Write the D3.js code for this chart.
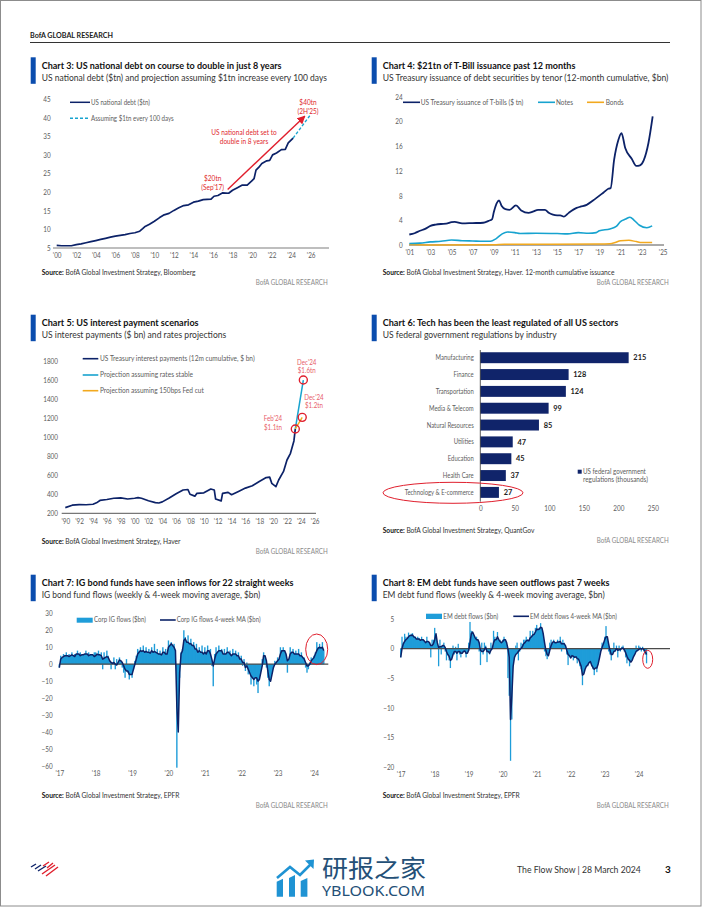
<!DOCTYPE html>
<html><head><meta charset="utf-8">
<script src="https://cdn.jsdelivr.net/npm/d3@7"></script>
<style>html,body{margin:0;padding:0;background:#fff}svg{display:block}text{font-family:Lato,"Noto Sans",sans-serif}</style>
</head><body><svg id="page" width="702" height="907"></svg>
<script>
// ---------- data ----------
const debtSeries=[[2000,5.7],[2000.5,5.6],[2001,5.6],[2001.5,5.6],[2002,5.9],[2002.5,6.1],[2003,6.4],[2003.5,6.7],[2004,7.0],[2004.5,7.3],[2005,7.6],[2005.5,7.9],[2006,8.2],[2006.5,8.4],[2007,8.6],[2007.5,8.9],[2008,9.1],[2008.5,9.5],[2008.8,10.2],[2009,10.7],[2009.5,11.4],[2010,12.2],[2010.5,13.1],[2011,13.9],[2011.5,14.3],[2012,15.1],[2012.5,15.8],[2013,16.4],[2013.5,16.6],[2014,17.3],[2014.5,17.6],[2015,18.0],[2015.8,18.1],[2016.1,18.9],[2016.5,19.1],[2017,19.8],[2017.6,19.7],[2018,20.5],[2018.5,21.2],[2019,21.9],[2019.5,21.9],[2020,23.1],[2020.2,23.6],[2020.4,25.9],[2020.7,26.7],[2021,27.7],[2021.5,28.4],[2021.8,28.5],[2022.1,30],[2022.5,30.5],[2023,31.4],[2023.4,31.5],[2023.7,33.2],[2024.2,34.5]];
const debtProjection=[[2024.2,34.5],[2025.9,40.5]];
const debtArrow=[[2017.5,20.7],[2025.4,40.4]];
const debtYTicks=[5,10,15,20,25,30,35,40,45];
const debtXTicks=[2000,2002,2004,2006,2008,2010,2012,2014,2016,2018,2020,2022,2024,2026];

const billSeries=[[2001,1.7],[2001.5,1.9],[2002,2.3],[2002.5,2.6],[2003,3.1],[2003.5,3.3],[2004,3.4],[2004.5,3.45],[2005,3.7],[2005.3,3.75],[2006,3.5],[2007,3.55],[2008,3.6],[2008.5,3.9],[2008.85,4.2],[2009,5.3],[2009.5,7.2],[2009.75,6.3],[2010.1,5.8],[2010.5,5.7],[2011.1,6.4],[2011.6,5.6],[2012.3,5.2],[2012.7,5.4],[2013.2,5.7],[2013.85,5.7],[2014.2,5.2],[2014.6,4.9],[2015,4.8],[2015.3,4.8],[2015.65,4.6],[2016.1,5.2],[2016.85,6.0],[2017.2,6.2],[2017.8,6.5],[2018.4,7.2],[2019.4,8.5],[2019.85,9.1],[2020.07,9.2],[2020.4,13.8],[2020.8,17],[2021.1,18.1],[2021.45,15.7],[2022.05,14],[2022.5,12.8],[2022.85,12.9],[2023.2,13.7],[2023.65,16.5],[2024.05,20.8]];
const noteSeries=[[2001,0.25],[2002,0.3],[2003,0.5],[2004,0.6],[2005,0.8],[2006,0.7],[2007,0.65],[2008,0.6],[2008.7,0.6],[2009.2,1],[2009.8,1.8],[2010.3,2.1],[2011,2.0],[2011.5,1.85],[2013,1.9],[2015,1.85],[2016,1.8],[2017,2.0],[2018,1.9],[2018.7,2.0],[2019,2.3],[2020,2.6],[2020.6,3.0],[2021,3.8],[2021.5,4.2],[2021.9,4.5],[2022.3,4.0],[2022.8,3.2],[2023.5,2.8],[2024,3.1]];
const bondSeries=[[2001,0.1],[2003,0.02],[2009,0.03],[2010,0.12],[2019,0.15],[2020,0.2],[2020.5,0.4],[2021,0.7],[2021.8,0.75],[2022.5,0.55],[2023,0.4],[2024,0.4]];
const issueYTicks=[0,4,8,12,16,20,24];
const issueXTicks=[2001,2003,2005,2007,2009,2011,2013,2015,2017,2019,2021,2023,2025];

const interestSeries=[[1990,260],[1991,285],[1992,292],[1993,290],[1994,295],[1994.5,310],[1995,335],[1996,345],[1997,358],[1998,362],[1999,350],[2000,358],[2000.5,365],[2001,358],[2002,332],[2003,312],[2003.5,308],[2004,320],[2005,360],[2006,405],[2007,445],[2007.7,450],[2008,400],[2008.7,380],[2009,410],[2010,415],[2011,455],[2011.5,445],[2011.7,350],[2012.5,330],[2012.7,410],[2013.5,420],[2014,395],[2015,430],[2016,465],[2017,490],[2018,535],[2019,575],[2019.5,580],[2019.8,515],[2020.4,480],[2020.8,550],[2021.5,640],[2022,760],[2022.5,830],[2023,960],[2023.2,1086]];
const stableSeries=[[2023.2,1086],[2024.36,1600]];
const cutSeries=[[2023.2,1086],[2024.2,1208]];
const interestYTicks=[200,400,600,800,1000,1200,1400,1600,1800];
const interestXTicks=[1990,1992,1994,1996,1998,2000,2002,2004,2006,2008,2010,2012,2014,2016,2018,2020,2022,2024,2026];

const sectors=["Manufacturing","Finance","Transportation","Media & Telecom","Natural Resources","Utilities","Education","Health Care","Technology & E-commerce"];
const regulations=[215,128,124,99,85,47,45,37,27];
const regXTicks=[0,50,100,150,200,250];

const flowYears=[2017,2018,2019,2020,2021,2022,2023,2024];
const igFlows=[
[-2,5,3,6,4,7,5,6,4,7,5,6,3,8,5,7,4,6,5,8,6,7,4,6,5,7],
[7,5,8,4,7,-3,7,3,8,5,2,-3,1,4,-3,3,1,4,1,-2,-5,-8,3,-5,-9,-6],
[-8,-3,2,5,9,8,10,6,11,7,10,6,9,5,10,7,12,6,9,5,8,4,10,6,9,5],
[14,11,13,9,12,2,-61,-35,-8,7,9,20,16,13,17,12,15,9,13,7,12,5,10,6,11,5],
[10,4,11,6,9,-1,-13,6,10,5,11,7,9,4,9,5,10,6,8,3,9,6,8,4,7,2],
[5,-1,3,-4,1,-6,-3,-12,-5,-13,-8,-12,-17,-7,-3,3,7,5,-2,-8,-13,-9,-5,-1,2,1],
[4,2,10,8,10,7,5,-5,3,10,6,9,4,8,5,9,3,7,2,4,-2,-5,-3,1,4,3],
[5,7,13,10,12,8,13,8]];
const igMA=[
[-2,3,4,4.5,5,5,5,4.5,5,5.5,5,4.5,6,6,6,5,5.5,5.5,6,6,6,5,5.5,5.5,5.5,4.5],
[5,6,5.5,5.5,5,3,3.5,4,4.5,4,2,1,0.5,1,0,-0.5,1,2.5,2,1,-1,-3,-4,-4,-6,-6],
[-6,-3,0,3,6,7,8,7.5,8,7,7.5,7,7,6.5,8,7,7.5,7,6.5,6,6,5.5,7,7,6,6],
[10,11,12,11,10,8,-25,-40,-5,6,8,14,15,13,13,12,12,11,11,9,9,7,8,7,7,6],
[7,6,8,8,6,3,-1,3,6,7,8,8,8,6,6,6,7,7,6,5,6,6,6,5,5,3],
[3,1,1,-2,-1,-3,-5,-7,-8,-9,-8,-8,-10,-9,-5,-1,5,5,2,-4,-9,-10,-6,-2,0,1],
[2,3,6,8,8,8,6,2,3,6,7,7,6,6,6,6,5,5,4,3,1,-1,-1,0,2,3],
[4,6,8,9.5,10,9.5,10,8]];
const igYTicks=[-60,-50,-40,-30,-20,-10,0,10,20,30];
const emFlows=[
[-1.5,2,1,2.5,2,1.5,2.7,2,2.5,2.6,1.5,2,1,2,1.8,1.2,2,1.5,1,0.8,2,1,0.5,-1.5,1.5,1.5],
[3.5,2,1,-3,1.5,-1,0.5,1,-0.5,-2,-1,-2,-3.3,-1,0.5,-1,0.3,-2,0.8,-1,-1.5,-0.5,0,-0.5,-1.5,-0.5],
[1,4.5,3,1.5,2,1,2,1.5,-0.5,-2.8,1,-1,1,0.5,-2.3,-0.5,-1,1,0.5,3,2,1.5,2.8,0.5,1.5,0.5],
[1.5,2,1,0,-5,-8,-19,-12,-3,-1,0.5,1,-2,-0.5,1,0.8,1.5,1.5,2,1.5,1,3,2,3,2.5,3.5],
[4,3,3.5,4.3,3,1,-0.5,-1.3,-1.8,-1,1,1.5,1,1.5,0.8,1,1.5,1,2,-0.5,1.5,1,0.5,-1,-2.8,-1],
[-1.5,-1,-2,-1.5,-1,-2.5,-1.8,-3,-3.5,-6.2,-4,-3,-2.5,-3,-2,-2,-3,-3.5,-4.5,-3,-4,-2.5,-1,0,1,0.5],
[2,3.8,1.5,-0.5,-1,-2,-0.5,1,-0.5,0.5,-1.5,0.5,-0.5,0.3,0.5,-0.5,-1.5,-2.5,-1.5,-3,-2,-1.5,-1,-0.5,0.5,-0.5],
[0.5,0.3,-0.5,0.3,-0.5,-1,-2.5]];
const emMA=[
[-1.5,0,0.8,1.2,1.5,1.7,2,2.2,2.2,2.3,2,1.9,1.6,1.6,1.6,1.4,1.5,1.5,1.3,1,1.2,1.2,1,0.5,0.5,0.8],
[1.5,2.5,1,0.2,0.3,0.3,0.5,0.5,0.2,-0.5,-1,-1.3,-2,-1.8,-1,-0.5,-0.5,-0.8,-0.5,-0.5,-0.8,-0.8,-0.5,-0.4,-0.8,-0.8],
[-0.3,1,2.5,2.8,2.3,1.8,1.5,1.5,1,-0.3,-0.5,-0.5,-0.2,0.2,-0.5,-0.5,-0.8,-0.3,0,1,1.5,1.5,2,1.5,1.2,1],
[1.2,1.5,1.5,1,0,-1.5,-12,-8,-3,-1.5,-1,-0.8,-0.5,-0.2,0,0.3,0.8,1,1.3,1.4,1.3,1.8,2,2.3,2.4,2.8],
[3.3,3.2,3.3,3.6,3.5,2.5,1,-0.3,-1,-1.2,-0.3,0.5,1,1.2,1,1,1.1,1.1,1.2,0.8,0.8,0.8,0.5,-0.3,-1,-1.2],
[-1.6,-1.2,-1.3,-1.5,-1.4,-1.7,-1.8,-2.4,-3,-4.5,-4.3,-3.5,-3,-2.8,-2.4,-2.2,-2.8,-3.2,-3.5,-3.3,-3.3,-2.6,-1.6,-0.5,0.2,0.8],
[1.5,2,2,0.8,-0.3,-1,-1,-0.5,-0.4,0,-0.3,-0.2,-0.2,0,0.1,-0.2,-0.7,-1.3,-1.8,-2,-2.3,-2,-1.4,-1,-0.5,-0.3],
[-0.2,0,-0.1,0,-0.2,-0.5,-1]];
const emYTicks=[-20,-15,-10,-5,0,5];
const flowXTicks=[2017,2018,2019,2020,2021,2022,2023,2024];

// ---------- styling ----------
const NAVY="#0c2268",SKY="#1f9dd9",TEAL="#17a3cf",ORANGE="#f2a91e",RED="#e01f2d",PINK="#e8606a",GREY="#5c5c5c";
const svg=d3.select("#page");
// squeeze a text horizontally round its anchor: to a target width (w) or by a factor (sx)
function squeeze(t,x,y,o){
  let sx=o.sx||1;
  if(o.w)sx=o.w/t.node().getComputedTextLength();
  t.attr("x",0).attr("y",0).attr("transform",`translate(${x},${y}) scale(${sx},1)`);
}
function txt(x,y,s,o={}){
  const t=svg.append("text").attr("dy",".35em")
    .attr("font-size",o.size||7).attr("font-weight",o.weight||400).attr("fill",o.fill||GREY)
    .attr("text-anchor",o.anchor||"start").text(s);
  if(o.family)t.style("font-family",o.family);
  squeeze(t,x,y,o);
  return t;
}
function head(x,y,title,tw,sub,sw){
  svg.append("rect").attr("x",x-11).attr("y",y-8).attr("width",5).attr("height",26.5).attr("fill","#0b4dae");
  txt(x,y,title,{size:10,weight:700,fill:"#111",w:tw});
  txt(x,y+12.2,sub,{size:10,fill:"#333",w:sw});
}
function source(x,y,label,w){
  const t=svg.append("text").attr("dy",".35em").attr("font-size",7.6).attr("fill","#333");
  t.append("tspan").attr("font-weight",700).attr("fill","#111").text("Source:");
  t.append("tspan").text(" "+label);
  squeeze(t,x,y,{w});
}
function brand(x,y){txt(x,y,"BofA GLOBAL RESEARCH",{size:7.6,fill:"#8a8a8a",anchor:"end",w:72});}
function styleAxis(g,size){g.select(".domain").remove();g.selectAll(".tick line").remove();
  g.selectAll("text").attr("fill",GREY).attr("font-size",size||7.6).style("font-family","Lato,sans-serif").attr("transform","scale(.84,1)");}
function axes(x,y,xTicks,yTicks,base,fmtX,padX,left){
  svg.append("g").attr("transform",`translate(${left},0)`)
    .call(d3.axisLeft(y).tickValues(yTicks).tickSize(0).tickPadding(0).tickFormat(d3.format("d"))).call(styleAxis);
  svg.append("g").attr("transform",`translate(0,${base})`)
    .call(d3.axisBottom(x).tickValues(xTicks).tickSize(0).tickPadding(padX).tickFormat(fmtX)).call(styleAxis);
}
const yy=d=>"'"+String(d).slice(2);
function path(data,x,y,color,w,dash,curve){
  const p=svg.append("path").datum(data).attr("fill","none").attr("stroke",color).attr("stroke-width",w)
    .attr("stroke-linejoin","round").attr("d",d3.line().curve(curve||d3.curveLinear).x(d=>x(d[0])).y(d=>y(d[1])));
  if(dash)p.attr("stroke-dasharray",dash);return p;
}
function legLine(x1,x2,y,color,w,dash){
  const l=svg.append("line").attr("x1",x1).attr("x2",x2).attr("y1",y).attr("y2",y).attr("stroke",color).attr("stroke-width",w);
  if(dash)l.attr("stroke-dasharray",dash);
}
function baseline(x1,x2,y,color,w){svg.append("line").attr("x1",x1).attr("x2",x2).attr("y1",y).attr("y2",y).attr("stroke",color).attr("stroke-width",w);}

// page frame and header
svg.append("rect").attr("width",702).attr("height",907).attr("fill","#fff");
svg.append("rect").attr("x",.5).attr("y",.5).attr("width",700.5).attr("height",905.5).attr("fill","none").attr("stroke","#8c8c8c");
txt(30,35.7,"BofA GLOBAL RESEARCH",{size:7.6,weight:700,fill:"#222",w:83});
baseline(30,670,42.5,"#333",1);

// ---------- Chart 3 ----------
{
 head(41.7,65.3,"Chart 3: US national debt on course to double in just 8 years",240,"US national debt ($tn) and projection assuming $1tn increase every 100 days",286);
 const x=d3.scaleLinear().domain([2000,2026]).range([56.7,310.7]),y=d3.scaleLinear().domain([5,45]).range([248,99]);
 baseline(53,329,248,"#a8a8a8",1.5);
 axes(x,y,debtXTicks,debtYTicks,248,yy,5,50.7);
 path(debtProjection,x,y,TEAL,1.4,"3,2");
 path(debtSeries,x,y,NAVY,1.7);
 svg.append("defs").append("marker").attr("id","arr").attr("viewBox","0 0 10 10").attr("refX",9).attr("refY",5)
   .attr("markerWidth",6).attr("markerHeight",6).attr("orient","auto").append("path").attr("d","M0,0L10,5L0,10z").attr("fill",RED);
 path(debtArrow,x,y,RED,1.4).attr("marker-end","url(#arr)");
 legLine(70,90,102.3,NAVY,1.5);txt(91,102.3,"US national debt ($tn)",{w:59,size:7});
 legLine(70,90,118.3,TEAL,1.4,"3,2");txt(91,118.3,"Assuming $1tn every 100 days",{w:83,size:7});
 const red={fill:RED,anchor:"middle",size:7.4,sx:.88};
 txt(244,132,"US national debt set to",red);txt(244,141,"double in 8 years",red);
 txt(212.7,178,"$20tn",red);txt(212.7,187,"(Sep'17)",red);
 txt(308,102,"$40tn",red);txt(308,111,"(2H'25)",red);
 source(41.7,272.7,"BofA Global Investment Strategy, Bloomberg",154);brand(327.7,282);
}
// ---------- Chart 4 ----------
{
 head(382.7,65.3,"Chart 4: $21tn of T-Bill issuance past 12 months",193,"US Treasury issuance of debt securities by tenor (12-month cumulative, $bn)",286);
 const x=d3.scaleLinear().domain([2001,2025]).range([409.3,662.7]),y=d3.scaleLinear().domain([0,24]).range([245,96.7]);
 baseline(409,664,245,"#555",1);
 axes(x,y,issueXTicks,issueYTicks,245,yy,5,402.7);
 const smooth=d3.curveMonotoneX;
 path(bondSeries,x,y,ORANGE,1.5,null,smooth);path(noteSeries,x,y,TEAL,1.6,null,smooth);path(billSeries,x,y,NAVY,1.8,null,smooth);
 legLine(403,420,102.3,NAVY,1.6);txt(420.7,102.3,"US Treasury issuance of T-bills ($ tn)",{w:103});
 legLine(538,555,102.3,TEAL,1.6);txt(556,102.3,"Notes",{w:17});
 legLine(587,604,102.3,ORANGE,1.6);txt(605.7,102.3,"Bonds",{w:18});
 source(382.7,272.7,"BofA Global Investment Strategy, Haver. 12-month cumulative issuance",232);brand(668.7,282);
}
// ---------- Chart 5 ----------
{
 head(41.7,322.7,"Chart 5: US interest payment scenarios",157,"US interest payments ($ bn) and rates projections",185);
 const x=d3.scaleLinear().domain([1990,2026]).range([65.3,314.7]),y=d3.scaleLinear().domain([200,1800]).range([513.3,361]);
 baseline(61.7,316,513.3,"#555",1);
 axes(x,y,interestXTicks,interestYTicks,513.3,yy,5,58);
 path(interestSeries,x,y,NAVY,1.7);path(stableSeries,x,y,TEAL,1.5);path(cutSeries,x,y,ORANGE,1.4);
 [[2023.2,1086],[2024.36,1600],[2024.2,1208]].forEach(p=>svg.append("circle").attr("cx",x(p[0])).attr("cy",y(p[1])).attr("r",4).attr("fill","none").attr("stroke",RED).attr("stroke-width",1.4));
 legLine(82.7,98.3,358.7,NAVY,1.6);txt(100,358.7,"US Treasury interest payments (12m cumulative, $ bn)",{w:155});
 legLine(82.7,98.3,375,TEAL,1.6);txt(100,375,"Projection assuming rates stable",{w:93});
 legLine(82.7,98.3,390.7,ORANGE,1.6);txt(100,390.7,"Projection assuming 150bps Fed cut",{w:104});
 const p={fill:PINK,anchor:"middle",size:7.4,sx:.84};
 txt(306.7,362.3,"Dec'24",p);txt(306.7,370.5,"$1.6tn",p);
 txt(314,397,"Dec'24",p);txt(314,405.2,"$1.2tn",p);
 txt(273,418.5,"Feb'24",p);txt(273,427,"$1.1tn",p);
 source(41.7,541.7,"BofA Global Investment Strategy, Haver",139);brand(327.7,551.7);
}
// ---------- Chart 6 ----------
{
 head(382.7,322.7,"Chart 6: Tech has been the least regulated of all US sectors",236,"US federal government regulations by industry",174);
 const x=d3.scaleLinear().domain([0,250]).range([480.3,652.8]),y=d3.scaleBand().domain(sectors).range([349.3,500.8]).paddingInner(.35).paddingOuter(.175);
 svg.append("g").selectAll("rect").data(sectors).join("rect").attr("x",x(0)).attr("y",d=>y(d))
   .attr("width",(d,i)=>x(regulations[i])-x(0)).attr("height",y.bandwidth()).attr("fill","#10246a");
 svg.append("line").attr("x1",x(0)).attr("x2",x(0)).attr("y1",350).attr("y2",501.7).attr("stroke","#333").attr("stroke-width",.8);
 sectors.forEach((s,i)=>{
   txt(473.7,y(s)+y.bandwidth()/2,s,{anchor:"end",size:7.4,sx:.8});
   txt(x(regulations[i])+4.7,y(s)+y.bandwidth()/2,regulations[i],{weight:700,fill:"#222",size:7.8,sx:.95});
 });
 svg.append("g").attr("transform","translate(0,503)").call(d3.axisBottom(x).tickValues(regXTicks).tickSize(0).tickPadding(2.5).tickFormat(d3.format("d"))).call(styleAxis);
 svg.append("ellipse").attr("cx",453).attr("cy",492.8).attr("rx",70).attr("ry",10.5).attr("fill","none").attr("stroke",RED).attr("stroke-width",1);
 svg.append("rect").attr("x",577.7).attr("y",469.7).attr("width",4).attr("height",4).attr("fill","#10246a");
 txt(583,471.7,"US federal government",{w:63});txt(583,480,"regulations (thousands)",{w:65});
 source(382.7,530,"BofA Global Investment Strategy, QuantGov",152);brand(668.7,540);
}
// ---------- Flow charts ----------
function flows(byYear,maByYear,x,y,zero,xEnd,barW){
 const pts=byYear.flatMap((r,k)=>r.map((v,i)=>[flowYears[k]+i/26,v]));
 const ma=maByYear.flatMap((r,k)=>r.map((v,i)=>[flowYears[k]+i/26,v]));
 svg.append("path").datum(ma).attr("fill",SKY).attr("d",d3.area().x(d=>x(d[0])).y0(y(0)).y1(d=>y(d[1])));
 svg.append("g").selectAll("rect").data(pts).join("rect").attr("x",d=>x(d[0])-barW/2).attr("width",barW)
   .attr("y",d=>Math.min(y(0),y(d[1]))).attr("height",d=>Math.abs(y(0)-y(d[1]))).attr("fill",SKY);
 baseline(x(2017),xEnd,y(0),"#4a4a4a",1.2);
 path(ma,x,y,NAVY,1.5);
}
{
 head(41.7,582.7,"Chart 7: IG bond funds have seen inflows for 22 straight weeks",252,"IG bond fund flows (weekly & 4-week moving average, $bn)",219);
 const x=d3.scaleLinear().domain([2017,2024]).range([59.3,314]),y=d3.scaleLinear().domain([-60,30]).range([766,613.3]);
 axes(x,y,flowXTicks,igYTicks,766,yy,5,52.7);
 flows(igFlows,igMA,x,y,0,328.3,1.4);
 svg.append("ellipse").attr("cx",316.7).attr("cy",649.3).attr("rx",11).attr("ry",15.3).attr("fill","none").attr("stroke",RED).attr("stroke-width",1);
 svg.append("rect").attr("x",76.7).attr("y",617.7).attr("width",16).attr("height",5).attr("fill",SKY);
 txt(94,620,"Corp IG flows ($bn)",{w:52});
 legLine(160,175.7,620,NAVY,1.6);txt(176.7,620,"Corp IG flows 4-week MA ($bn)",{w:84});
 source(41.7,795,"BofA Global Investment Strategy, EPFR",138);brand(327.7,805);
}
{
 head(382.7,582.7,"Chart 8: EM debt funds have seen outflows past 7 weeks",227,"EM debt fund flows (weekly & 4-week moving average, $bn)",222);
 const x=d3.scaleLinear().domain([2017,2024]).range([400.7,638.7]),y=d3.scaleLinear().domain([-20,5]).range([766.7,619]);
 axes(x,y,flowXTicks,emYTicks,766.7,yy,4.5,394.3);
 flows(emFlows,emMA,x,y,0,670,1.3);
 svg.append("ellipse").attr("cx",647.7).attr("cy",659.3).attr("rx",5).attr("ry",9).attr("fill","none").attr("stroke",RED).attr("stroke-width",1);
 svg.append("rect").attr("x",426).attr("y",613.7).attr("width",16).attr("height",5.3).attr("fill",SKY);
 txt(443.3,616.3,"EM debt flows ($bn)",{w:55});
 legLine(513.3,529,616.3,NAVY,1.6);txt(530,616.3,"EM debt flows 4-week MA ($bn)",{w:87});
 source(382.7,795,"BofA Global Investment Strategy, EPFR",137);brand(668.7,805);
}
// ---------- footer ----------
txt(517,869.7,"The Flow Show | 28 March 2024",{size:10,fill:"#333",w:124});
txt(665,869.7,"3",{size:10,weight:700,fill:"#111"});
// logo: short diagonal stripes
[[31,867,36,864,"#0c2268"],[35,869,41,865,"#0c2268"],[38,871,46,866,"#0c2268"],
 [43,866,49,862,"#e01f2d"],[47,868,53,863,"#e01f2d"],[42,874,55,865,"#e01f2d"],[46,876,58,867,"#e01f2d"]]
 .forEach(([a,b,c,d,col])=>svg.append("line").attr("x1",a).attr("y1",b).attr("x2",c).attr("y2",d).attr("stroke",col).attr("stroke-width",1.4));
const wm="#1f93d3";
[[276.7,881.7,6.3],[289,878,6],[300.7,881,6.7]].forEach(([bx,top,w])=>svg.append("path").attr("d",`M${bx} 896.7V${top}L${bx+w} ${top-3}V896.7z`).attr("fill",wm));
svg.append("path").attr("d","M277 878L290 867L300 875L311 864").attr("fill","none").attr("stroke",wm).attr("stroke-width",2.6);
svg.append("path").attr("d","M305 860.5L314 859.5L313.5 869z").attr("fill",wm);
txt(322,869,"研报之家",{size:24,weight:400,fill:"#245077",family:'"Noto Sans CJK SC"',w:104});
txt(322,891,"YBLOOK.COM",{size:14,fill:"#245077",family:'"Noto Sans"',w:103});
</script></body></html>
